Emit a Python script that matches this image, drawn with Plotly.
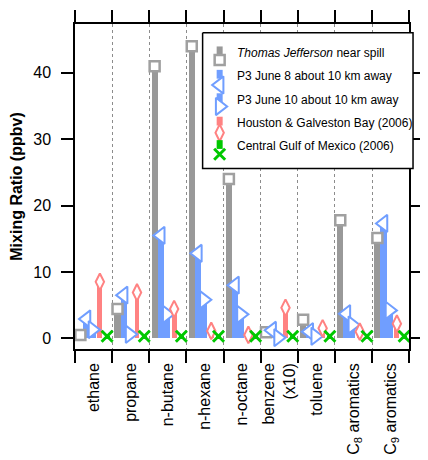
import plotly.graph_objects as go

# ---------------- data ----------------
categories = ["ethane", "propane", "n-butane", "n-hexane", "n-octane",
              "benzene<br>(x10)", "toluene", "C<sub>8</sub> aromatics", "C<sub>9</sub> aromatics"]
thomas_jefferson = [0.5, 4.4, 41.0, 44.0, 24.0, 0.9, 2.8, 17.8, 15.1]
p3_june8 = [2.9, 6.5, 15.5, 12.8, 8.0, 1.2, 1.0, 3.7, 17.3]
p3_june10 = [1.3, 0.6, 3.6, 5.8, 3.6, 0.1, 0.3, 2.0, 4.2]
houston_2006 = [8.5, 6.9, 4.4, 1.1, 0.5, 4.6, 1.5, 1.0, 2.2]
gulf_2006 = [0.3, 0.3, 0.3, 0.3, 0.3, 0.3, 0.3, 0.3, 0.3]
y_ticks = [0, 10, 20, 30, 40]
series_names = ["<i>Thomas Jefferson</i> near spill", "P3 June 8 about 10 km away",
                "P3 June 10 about 10 km away", "Houston & Galveston Bay (2006)",
                "Central Gulf of Mexico (2006)"]

# ---------------- styles ----------------
GRAY, GRAY_M = "rgb(153,153,153)", "rgb(160,160,160)"
BLUE = "rgb(112,158,255)"
PINK = "rgb(255,130,130)"
GREEN = "rgb(0,200,0)"
FONT = "Liberation Sans, Arial, Helvetica, sans-serif"

series = [
    dict(vals=thomas_jefferson, color=GRAY, mcolor=GRAY_M, off=-0.355, w=0.165, sym="square", size=10, lw=2.5, fill="white", leg_moff=7.5),
    dict(vals=p3_june8, color=BLUE, mcolor=BLUE, off=-0.19, w=0.165, sym="triangle-left", size=15, lw=2, fill="white", leg_moff=9),
    dict(vals=p3_june10, color=BLUE, mcolor=BLUE, off=-0.03, w=0.165, sym="triangle-right", size=15, lw=2, fill="white", leg_moff=7),
    dict(vals=houston_2006, color=PINK, mcolor=PINK, off=0.17, w=0.13, sym="diamond-tall", size=12, lw=2, fill="white", leg_moff=10),
    dict(vals=gulf_2006, color=GREEN, mcolor=GREEN, off=0.365, w=0.13, sym="x-thin", size=11, lw=3, fill=GREEN, leg_moff=8),
]

n = len(categories)
centers = [i + 0.5 for i in range(n)]

fig = go.Figure()

# bars (sticks)
for s in series:
    fig.add_trace(go.Bar(
        x=[c + s["off"] for c in centers], y=s["vals"], width=s["w"],
        marker=dict(color=s["color"], line=dict(width=0)),
        showlegend=False, hoverinfo="skip", xaxis="x", yaxis="y"))

# markers on top of the sticks
for s in series:
    fig.add_trace(go.Scatter(
        x=[c + s["off"] for c in centers], y=s["vals"], mode="markers",
        marker=dict(symbol=s["sym"], size=s["size"], color=s["fill"],
                    line=dict(color=s["mcolor"], width=s["lw"])),
        cliponaxis=False, showlegend=False, hoverinfo="skip", xaxis="x", yaxis="y"))

# ---------------- page geometry (page pixels; body has 8px margin) ----------------
PAGE_W, PAGE_H, BODY = 428, 460, 8
PX0, PX1, PY0, PY1 = 75, 423, 24, 357        # overlay subplot area in page px
MAIN_X1 = 418                                  # right frame of the main plot
Y_ZERO_PX, PX_PER_UNIT = 346, 6.8
W, H = PAGE_W - BODY, PAGE_H - BODY
L, T = PX0 - BODY, PY0 - BODY
R = PAGE_W - PX1
B = PAGE_H - PY1
y_range = [-(PY1 - Y_ZERO_PX) / PX_PER_UNIT, (Y_ZERO_PX - PY0) / PX_PER_UNIT]

# ---------------- hand-drawn legend in an overlay subplot (page pixel units) ----------------
bx0, bx1, by0, by1 = 206, 422, 33, 172
fig.add_trace(go.Scatter(
    x=[bx0, bx1, bx1, bx0, bx0], y=[by0, by0, by1, by1, by0], mode="lines",
    fill="toself", fillcolor="white", line=dict(color="black", width=1.5),
    showlegend=False, hoverinfo="skip", xaxis="x2", yaxis="y2"))

sym_x, text_x = 223.5, 239
row0, row_dy = 53.5, 24
annotations = []
for i, (s, name) in enumerate(zip(series, series_names)):
    ty = row0 + row_dy * i
    fig.add_trace(go.Scatter(
        x=[sym_x, sym_x], y=[ty - 6.5, ty + 2.5], mode="lines",
        line=dict(color=s["color"], width=6),
        showlegend=False, hoverinfo="skip", xaxis="x2", yaxis="y2"))
    fig.add_trace(go.Scatter(
        x=[sym_x], y=[ty + s["leg_moff"]], mode="markers",
        marker=dict(symbol=s["sym"], size=s["size"], color=s["fill"],
                    line=dict(color=s["mcolor"], width=s["lw"])),
        cliponaxis=False, showlegend=False, hoverinfo="skip", xaxis="x2", yaxis="y2"))
    annotations.append(dict(x=text_x, y=ty, xref="x2", yref="y2", text=name,
                            showarrow=False, xanchor="left", yanchor="middle",
                            font=dict(size=12, color="black", family=FONT)))

main_frac = (MAIN_X1 - PX0) / (PX1 - PX0)

fig.update_layout(
    width=W, height=H,
    margin=dict(l=L, r=R, t=T, b=B, pad=0),
    paper_bgcolor="white", plot_bgcolor="rgba(0,0,0,0)",
    font=dict(family=FONT, size=16, color="black"),
    barmode="overlay", bargap=0,
    showlegend=False,
    annotations=annotations,
    xaxis=dict(
        domain=[0, main_frac], range=[0, n], tickmode="array", tickvals=centers,
        ticktext=categories, tickangle=-90, ticks="", showline=True,
        linecolor="black", linewidth=1.5, mirror="ticks", showgrid=False,
        zeroline=False, tickfont=dict(size=16), ticklabelstandoff=6,
        minor=dict(tickmode="linear", tick0=0, dtick=1, ticks="outside",
                   ticklen=12, tickwidth=1.5, tickcolor="black", showgrid=True,
                   gridcolor="rgb(140,140,140)", griddash="dot", gridwidth=1),
        fixedrange=True),
    yaxis=dict(
        domain=[0, 1], range=y_range, tickmode="array", tickvals=y_ticks,
        ticks="outside", ticklen=12, tickwidth=1.5, tickcolor="black",
        showline=True, linecolor="black", linewidth=1.5, mirror="ticks",
        showgrid=False, zeroline=False, tickfont=dict(size=16),
        ticklabelstandoff=7,
        title=dict(text="<b>Mixing Ratio (ppbv)</b>", font=dict(size=16), standoff=8),
        fixedrange=True),
    xaxis2=dict(domain=[0, 1], range=[PX0, PX1], visible=False, anchor="y2", fixedrange=True),
    yaxis2=dict(domain=[0, 1], range=[PY1, PY0], visible=False, anchor="x2", fixedrange=True),
)

fig.write_html("out.html")
